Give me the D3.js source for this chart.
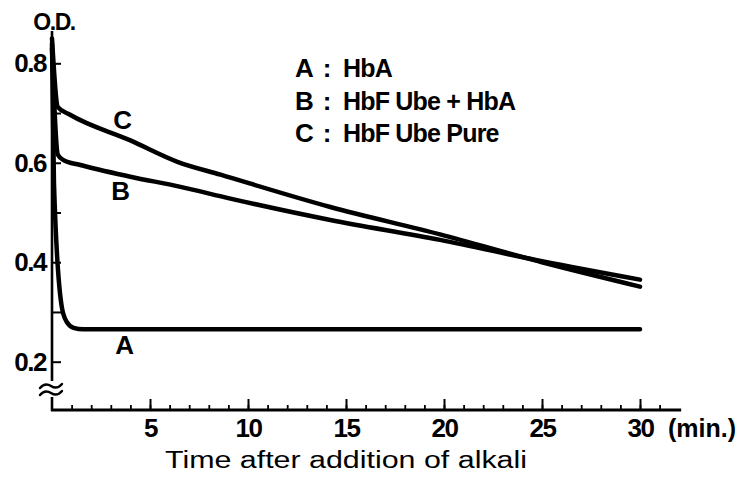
<!DOCTYPE html>
<html>
<head>
<meta charset="utf-8">
<script src="https://cdn.jsdelivr.net/npm/d3@7"></script>
<style>
  body { margin: 0; background: #fff; }
  svg text { fill: #000; }
</style>
</head>
<body>
<div id="chart"></div>
<script>
// Curve values (time in min, optical density)
const timeA = [0, 0.1, 0.5, 0.75, 1.1, 1.6, 30];
const odA = [0.84, 0.56, 0.31, 0.28, 0.268, 0.265, 0.265];

const timeB = [0, 0.3, 0.6, 1.4, 4.0, 6.5, 9.1, 14.2, 19.8, 25, 30];
const odB = [0.83, 0.616, 0.605, 0.596, 0.572, 0.552, 0.528, 0.485, 0.445, 0.402, 0.365];

const timeC = [0, 0.3, 0.9, 4.0, 6.4, 8.6, 14.2, 19.8, 25, 30];
const odC = [0.85, 0.712, 0.697, 0.645, 0.602, 0.576, 0.511, 0.456, 0.40, 0.351];

const curveKeys = ["A", "B", "C"];
const legendNames = ["HbA", "HbF Ube + HbA", "HbF Ube Pure"];
const labelT = [3.7, 3.5, 3.6];
const labelV = [0.234, 0.544, 0.686];

const yTicks = [0.2, 0.3, 0.4, 0.5, 0.6, 0.7, 0.8];
const yLabelled = [0.2, 0.4, 0.6, 0.8];
const xMajor = [5, 10, 15, 20, 25, 30];
const xMinor = d3.range(1, 32);

const width = 747, height = 478;

const svg = d3
  .select("#chart")
  .append("svg")
  .attr("width", width)
  .attr("height", height)
  .style("font-family", "'Liberation Sans', Arial, sans-serif");

svg.append("rect").attr("width", width).attr("height", height).attr("fill", "#fff");

const x = d3.scaleLinear().domain([0, 30]).range([52, 640]);
const y = d3.scaleLinear().domain([0.2, 0.8]).range([361.7, 63.3]);

const x0 = x(0);
const axisY = 410; // x axis sits below the broken part of the y axis

// y axis line (broken near the bottom)
svg.append("line")
  .attr("x1", x0).attr("x2", x0)
  .attr("y1", 31).attr("y2", 381)
  .attr("stroke", "#000").attr("stroke-width", 2.6);
svg.append("line")
  .attr("x1", x0).attr("x2", x0)
  .attr("y1", 397).attr("y2", axisY + 1)
  .attr("stroke", "#000").attr("stroke-width", 2.6);

// break mark
[386, 393].forEach((cy) => {
  svg.append("path")
    .attr("d", `M${x0 - 12},${cy + 2} q5,-6 11,-2 t11,-2`)
    .attr("fill", "none")
    .attr("stroke", "#000")
    .attr("stroke-width", 2.4)
    .attr("stroke-linecap", "round");
});

// y ticks and labels
const yAxis = svg.append("g")
  .attr("transform", `translate(${x0},0)`)
  .call(
    d3.axisLeft(y)
      .tickValues(yTicks)
      .tickSizeInner(-9)
      .tickSizeOuter(0)
      .tickPadding(6)
      .tickFormat((d) => (yLabelled.some((v) => Math.abs(v - d) < 1e-9) ? d3.format(".1f")(d) : ""))
  );
yAxis.select(".domain").remove();
yAxis.selectAll("line").attr("stroke", "#000").attr("stroke-width", 2);
yAxis.selectAll("text")
  .attr("font-size", 26)
  .attr("font-weight", "bold")
  .attr("letter-spacing", -1.5)
  .attr("fill", "#000");

svg.append("text")
  .attr("x", 54).attr("y", 30)
  .attr("text-anchor", "middle")
  .attr("font-size", 23)
  .attr("font-weight", "bold")
  .attr("letter-spacing", -1.5)
  .text("O.D.");

// x axis
svg.append("line")
  .attr("x1", x0 - 1).attr("x2", x(32.1))
  .attr("y1", axisY).attr("y2", axisY)
  .attr("stroke", "#000").attr("stroke-width", 3);

svg.append("g")
  .attr("transform", `translate(0,${axisY})`)
  .call(d3.axisBottom(x).tickValues(xMinor).tickSizeInner(-5).tickSizeOuter(0).tickFormat(""))
  .call((g) => g.select(".domain").remove())
  .selectAll("line").attr("stroke", "#000").attr("stroke-width", 1.8);

const xAxis = svg.append("g")
  .attr("transform", `translate(0,${axisY})`)
  .call(d3.axisBottom(x).tickValues(xMajor).tickSizeInner(-11).tickSizeOuter(0).tickPadding(8.5));
xAxis.select(".domain").remove();
xAxis.selectAll("line").attr("stroke", "#000").attr("stroke-width", 2);
xAxis.selectAll("text")
  .attr("font-size", 26)
  .attr("font-weight", "bold")
  .attr("letter-spacing", -1.5)
  .attr("fill", "#000");

svg.append("text")
  .attr("x", 668).attr("y", 437)
  .attr("font-size", 25)
  .attr("font-weight", "bold")
  .text("(min.)");

svg.append("text")
  .attr("x", 165).attr("y", 468)
  .attr("font-size", 23)
  .attr("textLength", 362)
  .attr("lengthAdjust", "spacingAndGlyphs")
  .text("Time after addition of alkali");

// curves
const series = [
  { key: "A", t: timeA, v: odA },
  { key: "B", t: timeB, v: odB },
  { key: "C", t: timeC, v: odC },
];

const line = d3.line()
  .x((d) => x(d[0]))
  .y((d) => y(d[1]))
  .curve(d3.curveMonotoneX);

series.forEach((s) => {
  svg.append("path")
    .datum(d3.zip(s.t, s.v))
    .attr("fill", "none")
    .attr("stroke", "#000")
    .attr("stroke-width", 4.5)
    .attr("stroke-linecap", "round")
    .attr("stroke-linejoin", "round")
    .attr("d", line);
});

// curve labels
svg.selectAll(".clabel")
  .data(curveKeys)
  .enter()
  .append("text")
  .attr("class", "clabel")
  .attr("x", (d, i) => x(labelT[i]))
  .attr("y", (d, i) => y(labelV[i]))
  .attr("dy", "0.36em")
  .attr("text-anchor", "middle")
  .attr("font-size", 26)
  .attr("font-weight", "bold")
  .text((d) => d);

// legend
const legend = svg.append("g");
curveKeys.forEach((k, i) => {
  const by = 77 + i * 32.5;
  legend.append("text")
    .attr("x", 295).attr("y", by)
    .attr("font-size", 26).attr("font-weight", "bold")
    .text(k);
  legend.append("text")
    .attr("x", 327).attr("y", by)
    .attr("text-anchor", "middle")
    .attr("font-size", 26).attr("font-weight", "bold")
    .text(":");
  legend.append("text")
    .attr("x", 343).attr("y", by)
    .attr("font-size", 25).attr("font-weight", "bold")
    .attr("letter-spacing", -0.8)
    .text(legendNames[i]);
});
</script>
</body>
</html>
